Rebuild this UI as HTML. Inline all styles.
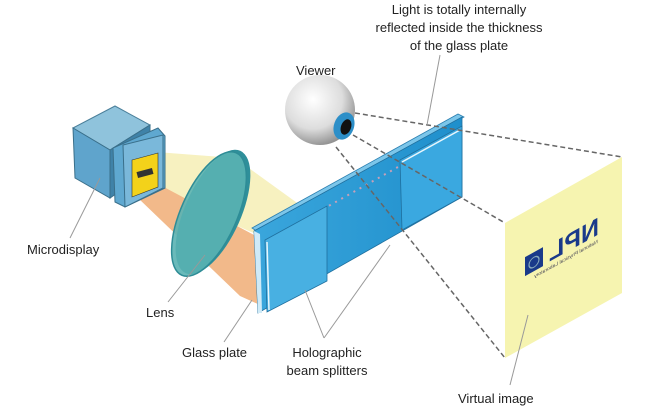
<!DOCTYPE html>
<html><head><meta charset="utf-8"><style>
body{margin:0;background:#fff;width:655px;height:410px;overflow:hidden}
text{font-family:"Liberation Sans",sans-serif;font-size:13px;fill:#222}
</style></head><body>
<svg width="655" height="410" viewBox="0 0 655 410" xmlns="http://www.w3.org/2000/svg">
<defs>
<radialGradient id="eye" cx="0.4" cy="0.35" r="0.7"><stop offset="0" stop-color="#fff"/><stop offset="0.6" stop-color="#ddd"/><stop offset="1" stop-color="#888"/></radialGradient>
<linearGradient id="gl" x1="0" y1="0" x2="1" y2="0"><stop offset="0" stop-color="#3aa6dc"/><stop offset="1" stop-color="#1f8fcc"/></linearGradient>
</defs>
<!-- virtual image -->
<polygon points="505,223 622,157 622,293 505,358" fill="#f6f4b0"/>
<g transform="translate(574,248) skewY(-29) scale(-1,1)">
<text x="0" y="0" text-anchor="middle" style="font-size:25px;font-weight:bold;fill:#1a3a8a">NPL</text>
<rect x="31" y="-18" width="18" height="19" fill="#1a3a8a"/>
<circle cx="40" cy="-8" r="5" fill="none" stroke="#8ab" stroke-width="1.2"/>
<text x="8" y="8" text-anchor="middle" style="font-size:5px;fill:#445">National Physical Laboratory</text>
</g>
<!-- beams -->
<polygon points="156,152 235,158 300,205 256,234 160,192" fill="#f7f1c0"/>
<polygon points="138,198 160,185 256,236 260,305 240,296" fill="#f2b98a"/>
<!-- microdisplay -->
<polygon points="73,128 115,106 150,125 110,150" fill="#8fc3dc" stroke="#4a7f9a"/>
<polygon points="73,128 110,150 110,198 75,178" fill="#5fa4cc" stroke="#3a6f8a"/>
<polygon points="110,150 150,125 150,170 110,198" fill="#3f82a8" stroke="#3a6f8a"/>
<polygon points="113,148 158,128 165,136 165,188 125,207 115,202" fill="#5fa8d0" stroke="#3a6f8a"/>
<polygon points="123,145 163,135 163,188 125,207" fill="#7ab8da" stroke="#3a6f8a"/>
<polygon points="132,160 158,153 158,187 132,197" fill="#f3d21a" stroke="#333" stroke-width="0.6"/>
<rect x="137" y="170" width="16" height="6" fill="#333" transform="rotate(-15 145 173)"/>
<!-- lens -->
<ellipse cx="213" cy="212" rx="28" ry="67" transform="rotate(24 213 212)" fill="#2f8f9a"/>
<ellipse cx="209" cy="214" rx="28" ry="67" transform="rotate(24 209 214)" fill="#5ab3b3" fill-opacity="0.9" stroke="#2e8c96" stroke-width="1.5"/>
<!-- glass plate -->
<polygon points="252,228 458,114 464,117 258,232" fill="#7cc6ea" stroke="#2a7fb0" stroke-width="0.8"/>
<polygon points="254,231 462,117 462,197 258,313" fill="url(#gl)" stroke="#1f6f9e" stroke-width="0.8"/>
<polygon points="254,231 260,234 262,313 258,313" fill="#cfeaf7"/>
<polyline points="268,240 455,135" fill="none" stroke="#c8a0b8" stroke-width="2" stroke-dasharray="2,5"/>
<polygon points="265,240 327,206 327,281 267,312" fill="#48b0e2" stroke="#1f6f9e" stroke-width="0.8"/>
<line x1="267" y1="242" x2="269" y2="310" stroke="#e8f6fc" stroke-width="1.5"/>
<polygon points="400,160 462,126 462,197 402,230" fill="#3aa8e0" stroke="#1f6f9e" stroke-width="0.8"/>
<line x1="402" y1="162" x2="460" y2="130" stroke="#e8f6fc" stroke-width="1.5"/>
<!-- eye -->
<circle cx="320" cy="110" r="35" fill="url(#eye)"/>
<ellipse cx="344" cy="126" rx="10" ry="14" fill="#2d8fc8" transform="rotate(20 344 126)"/>
<ellipse cx="346" cy="127" rx="5" ry="8" fill="#111" transform="rotate(20 346 127)"/>
<!-- dashed lines -->
<g stroke="#666" stroke-width="1.5" stroke-dasharray="5,3" fill="none">
<line x1="355" y1="113" x2="622" y2="157"/>
<line x1="353" y1="135" x2="505" y2="223"/>
<line x1="336" y1="147" x2="505" y2="358"/>
</g>
<!-- leader lines -->
<g stroke="#999" stroke-width="1" fill="none">
<line x1="440" y1="55" x2="427" y2="125"/>
<line x1="70" y1="238" x2="100" y2="178"/>
<line x1="168" y1="302" x2="205" y2="255"/>
<line x1="224" y1="342" x2="252" y2="300"/>
<line x1="324" y1="338" x2="305" y2="290"/>
<line x1="324" y1="338" x2="390" y2="245"/>
<line x1="510" y1="385" x2="528" y2="315"/>
</g>
<!-- labels -->
<text x="459" y="14" text-anchor="middle">Light is totally internally</text>
<text x="459" y="32" text-anchor="middle">reflected inside the thickness</text>
<text x="459" y="50" text-anchor="middle">of the glass plate</text>
<text x="296" y="75">Viewer</text>
<text x="27" y="254">Microdisplay</text>
<text x="146" y="317">Lens</text>
<text x="182" y="357">Glass plate</text>
<text x="327" y="357" text-anchor="middle">Holographic</text>
<text x="327" y="375" text-anchor="middle">beam splitters</text>
<text x="458" y="403">Virtual image</text>
</svg>
</body></html>
